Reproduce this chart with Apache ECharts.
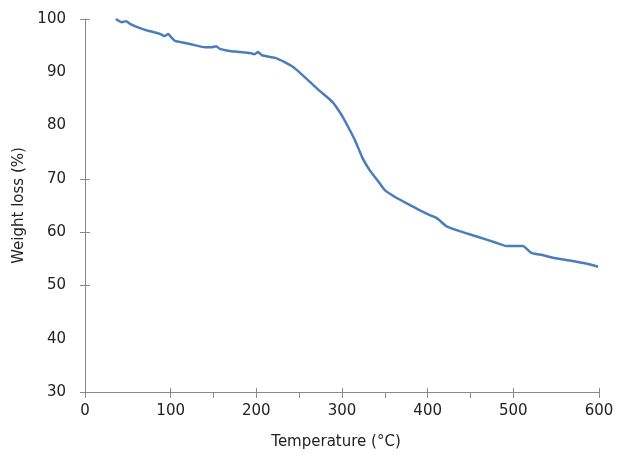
<!DOCTYPE html>
<html>
<head>
<meta charset="utf-8">
<script src="https://cdn.jsdelivr.net/npm/echarts@6/dist/echarts.min.js"></script>
<style>
  html, body { margin: 0; padding: 0; background: #fff; }
  #chart { width: 623px; height: 457px; }
</style>
</head>
<body>
<div id="chart"></div>
<script>
// TGA curve
const temps = [36, 43, 48, 52.5, 64, 76, 87.5, 93, 97, 101.5, 105, 117, 128, 140, 148, 153, 157.5, 169, 181, 192.5, 198, 202, 206.5, 222, 233, 243, 251, 262.5, 274, 289, 297.5, 303, 315, 324, 332.5, 342, 350, 362, 379, 391, 402.6, 411, 414, 422, 441, 461, 480, 492, 511, 521, 534, 546, 569, 585, 599];
const weights = [100, 99.4, 99.6, 99.1, 98.3, 97.7, 97.2, 96.8, 97.2, 96.4, 95.9, 95.5, 95.1, 94.7, 94.7, 94.9, 94.4, 94.0, 93.8, 93.6, 93.4, 93.8, 93.2, 92.7, 91.9, 91.0, 89.9, 88.2, 86.5, 84.4, 82.5, 81.0, 77.3, 73.9, 71.6, 69.6, 67.9, 66.6, 65.1, 64.1, 63.2, 62.6, 62.2, 61.1, 60.0, 59.0, 58.0, 57.4, 57.4, 56.1, 55.7, 55.2, 54.6, 54.1, 53.5];

const xMajor = [0, 100, 200, 300, 400, 500, 600];
const xTickOut = [0, 100, 150, 200, 250, 300, 350, 400, 450, 500, 600];
const xTickIn = [100, 200, 300, 400, 500, 600];
const yTicks = [30, 50, 60, 70, 100];

const axisColor = '#8a8a8a';
const textColor = '#222';
const font = 'DejaVu Sans';

const chart = echarts.init(document.getElementById('chart'));

const baseX = {
  type: 'value',
  min: 0,
  max: 600,
  interval: 100,
  position: 'bottom',
  splitLine: { show: false }
};
const baseY = {
  type: 'value',
  min: 30,
  max: 100,
  interval: 10,
  position: 'left',
  splitLine: { show: false }
};

chart.setOption({
  animation: false,
  grid: { left: 85, right: 24, top: 19, bottom: 65 },
  xAxis: [
    Object.assign({}, baseX, {
      name: 'Temperature (°C)',
      nameLocation: 'middle',
      nameGap: 43,
      nameTextStyle: { color: textColor, fontFamily: font, fontSize: 15, padding: [0, 12, 0, 0] },
      axisLine: { onZero: false, lineStyle: { color: axisColor, width: 1 } },
      axisTick: { show: true, inside: false, length: 6, customValues: xTickOut, lineStyle: { color: axisColor } },
      axisLabel: { color: textColor, fontFamily: font, fontSize: 15, margin: 12, customValues: xMajor }
    }),
    Object.assign({}, baseX, {
      axisLine: { show: false, onZero: false },
      axisTick: { show: true, inside: true, length: 4, customValues: xTickIn, lineStyle: { color: axisColor } },
      axisLabel: { show: false }
    })
  ],
  yAxis: [
    Object.assign({}, baseY, {
      name: 'Weight loss (%)',
      nameLocation: 'middle',
      nameGap: 55,
      nameTextStyle: { color: textColor, fontFamily: font, fontSize: 15 },
      axisLine: { show: true, onZero: false, lineStyle: { color: axisColor, width: 1 } },
      axisTick: { show: true, inside: false, length: 5, customValues: yTicks, lineStyle: { color: axisColor } },
      axisLabel: { color: textColor, fontFamily: font, fontSize: 15, margin: 19 }
    }),
    Object.assign({}, baseY, {
      axisLine: { show: false, onZero: false },
      axisTick: { show: true, inside: true, length: 5, customValues: yTicks, lineStyle: { color: axisColor } },
      axisLabel: { show: false }
    })
  ],
  series: [
    {
      type: 'line',
      data: temps.map((t, i) => [t, weights[i]]),
      showSymbol: false,
      smooth: 0.2,
      lineStyle: { color: '#4a7ebb', width: 2.5 }
    }
  ]
});
</script>
</body>
</html>
